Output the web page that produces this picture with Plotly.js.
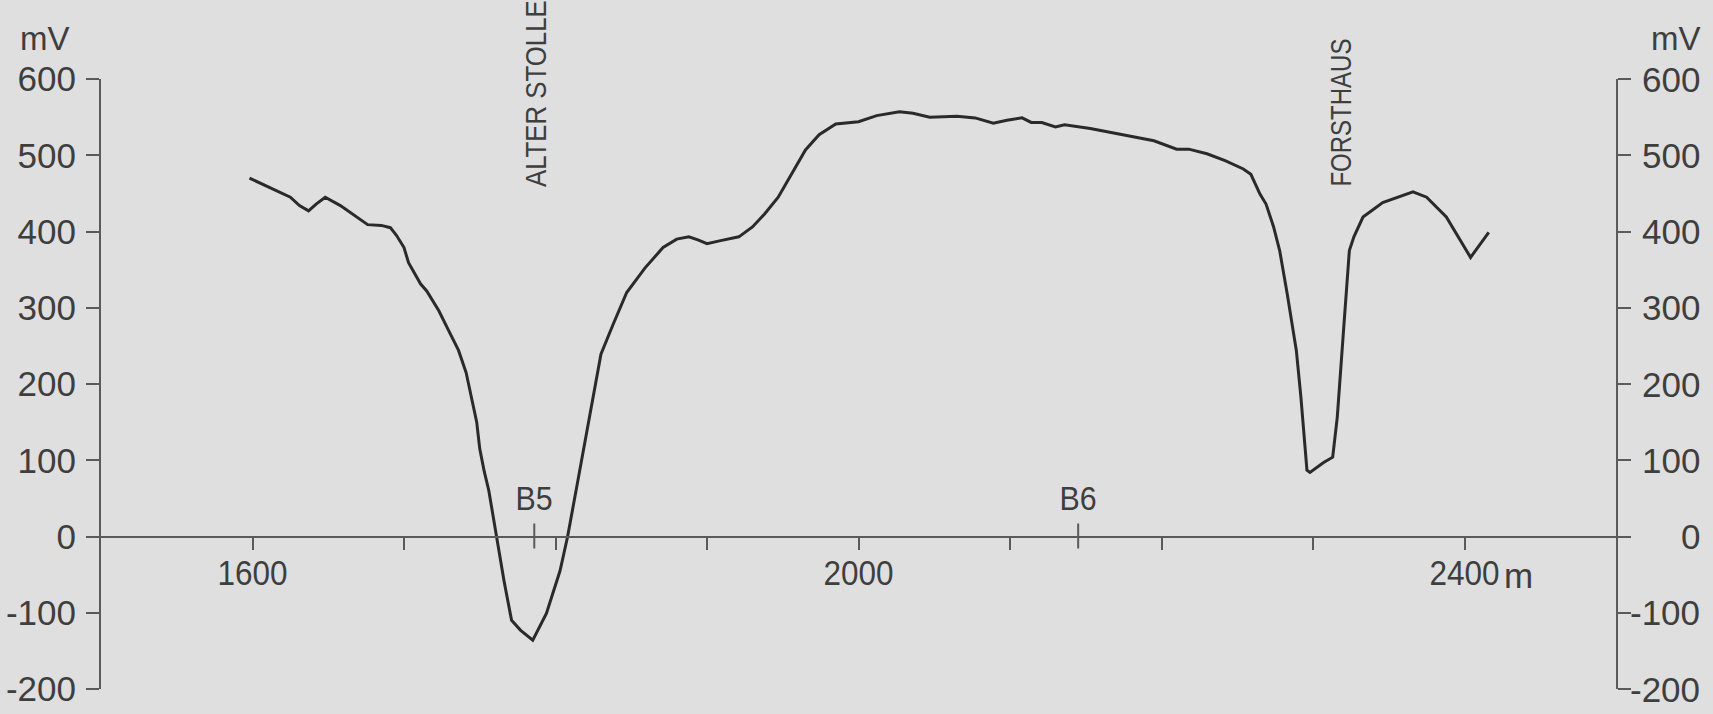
<!DOCTYPE html>
<html>
<head>
<meta charset="utf-8">
<script src="https://cdn.plot.ly/plotly-3.0.1.min.js"></script>
<style>
  html, body { margin: 0; padding: 0; background: #dfdfdf; }
  #chart { width: 1713px; height: 714px; }
</style>
</head>
<body>
<div id="chart"></div>
<script>
// ---- data (profile distance in m, self-potential in mV) ----
const distance = [1598,1625,1631,1637,1642,1648,1658,1669,1676,1685,1691,1695,1700,1703,1706,1711,1715,1723,1729,1736,1741,1745,1748,1750,1753,1756,1761,1766,1771,1777,1785,1794,1803,1808,1814,1819,1825,1830,1838,1847,1859,1871,1880,1888,1894,1900,1909,1921,1930,1938,1947,1956,1965,1974,1985,2000,2012,2027,2036,2047,2065,2077,2089,2098,2108,2114,2121,2130,2136,2153,2171,2183,2195,2210,2218,2230,2242,2254,2259,2265,2269,2274,2278,2283,2289,2292,2296,2298,2307,2313,2316,2320,2324,2327,2333,2346,2366,2375,2388,2404,2416];
const potential = [470,445,434,427,436,445,434,419,409,408,405,395,379,359,348,331,322,296,272,244,215,180,150,115,85,60,0,-58,-110,-123,-136,-101,-45,0,65,121,187,239,278,320,352,379,390,393,389,384,388,393,406,423,445,476,507,527,541,544,552,557,555,550,551,549,542,546,549,543,543,537,540,535,528,524,519,508,508,502,493,482,475,449,436,406,375,318,244,183,87,84,97,104,156,266,375,393,419,438,452,445,419,366,399];

const xTickVals = [1600,1700,1800,1900,2000,2100,2200,2300,2400];
const xTickText = ['1600','','','','2000','','','','2400'];
const xUnit = 'm';
const yTickVals = [600,500,400,300,200,100,0,-100,-200];
const yTickText = ['600','500','400','300','200','100','0','-100','-200'];
const yUnit = 'mV';

const boreholeNames = ['B5','B6'];
const boreholeX = [1786,2145];
const landmarkNames = ['ALTER STOLLE','FORSTHAUS'];
const landmarkX = [1787,2318];
const landmarkBase = 456;

// ---- styling ----
const FONT = "'Liberation Sans', Arial, sans-serif";
const TXT = '#3e3e3e';
const AX = '#5a5a5a';
const BG = '#dfdfdf';

const traces = [
  { x: distance, y: potential, type: 'scatter', mode: 'lines',
    line: { color: '#2a2a2a', width: 3 }, hoverinfo: 'skip', showlegend: false },
  { x: [null], y: [null], type: 'scatter', mode: 'lines', yaxis: 'y2', showlegend: false, hoverinfo: 'skip' }
];

const annotations = [];
const annSqueeze = [];   // [origin, factor] per annotation (imitates the condensed lettering)
boreholeNames.forEach((n, i) => { annotations.push({
  text: n, x: boreholeX[i], y: 0, xref: 'x', yref: 'y', xanchor: 'center', yanchor: 'bottom',
  yshift: 18, showarrow: false, font: { family: FONT, size: 33, color: TXT }
}); annSqueeze.push(['middle', 0.92]); });
const landmarkSq = [0.86, 0.8];
landmarkNames.forEach((n, i) => { annotations.push({
  text: n, x: landmarkX[i], y: landmarkBase, xref: 'x', yref: 'y', xanchor: 'center', yanchor: 'bottom',
  textangle: -90, showarrow: false, font: { family: FONT, size: 30, color: TXT }
}); annSqueeze.push(['start', landmarkSq[i]]); });
// right-axis labels (right-aligned like the original)
yTickVals.forEach((v, i) => { annotations.push({
  text: yTickText[i], x: 1.0568, y: v, xref: 'paper', yref: 'y', xanchor: 'right', yanchor: 'middle',
  showarrow: false, font: { family: FONT, size: 35, color: TXT }
}); annSqueeze.push(['end', 1]); });
// unit labels
annotations.push({ text: yUnit, x: -0.055, y: 1.067, xref: 'paper', yref: 'paper', xanchor: 'left', yanchor: 'middle',
  showarrow: false, font: { family: FONT, size: 33, color: TXT } }); annSqueeze.push(['start', 1]);
annotations.push({ text: yUnit, x: 1.0218, y: 1.067, xref: 'paper', yref: 'paper', xanchor: 'left', yanchor: 'middle',
  showarrow: false, font: { family: FONT, size: 33, color: TXT } }); annSqueeze.push(['start', 1]);
annotations.push({ text: xUnit, x: xTickVals[xTickVals.length - 1], y: 0, xref: 'x', yref: 'y', xanchor: 'left', yanchor: 'middle',
  xshift: 37, yshift: -39, showarrow: false, font: { family: FONT, size: 35, color: TXT } }); annSqueeze.push(['start', 1]);

const shapes = boreholeX.map(bx => ({
  type: 'line', xref: 'x', yref: 'y', ysizemode: 'pixel', yanchor: 0,
  x0: bx, x1: bx, y0: -12, y1: 13, line: { color: AX, width: 2 }
}));

const layout = {
  width: 1713, height: 714,
  margin: { l: 101, r: 97, t: 79, b: 25, pad: 0 },
  paper_bgcolor: BG, plot_bgcolor: BG,
  showlegend: false,
  font: { family: FONT, color: TXT },
  xaxis: {
    range: [1500, 2500], domain: [0, 1], anchor: 'free', position: 0.25,
    showline: true, linecolor: AX, linewidth: 2, zeroline: false, showgrid: false,
    ticks: 'outside', ticklen: 12, tickwidth: 2, tickcolor: AX,
    tickmode: 'array', tickvals: xTickVals, ticktext: xTickText,
    tickfont: { family: FONT, size: 35, color: TXT }, ticklabelstandoff: -6
  },
  yaxis: {
    range: [-200, 600], domain: [0, 1], anchor: 'x', side: 'left',
    showline: true, linecolor: AX, linewidth: 2, zeroline: false, showgrid: false,
    ticks: 'outside', ticklen: 13, tickwidth: 2, tickcolor: AX,
    tickmode: 'array', tickvals: yTickVals, ticktext: yTickText,
    tickfont: { family: FONT, size: 35, color: TXT }, ticklabelstandoff: 3
  },
  yaxis2: {
    range: [-200, 600], overlaying: 'y', anchor: 'x', side: 'right',
    showline: true, linecolor: AX, linewidth: 2, zeroline: false, showgrid: false,
    ticks: 'outside', ticklen: 13, tickwidth: 2, tickcolor: AX,
    tickmode: 'array', tickvals: yTickVals, showticklabels: false
  },
  annotations: annotations,
  shapes: shapes
};

function squeeze(el, mode, f) {
  if (!el || !el.textContent || f === 1) return;
  const bb = el.getBBox();
  const ox = mode === 'end' ? bb.x + bb.width : (mode === 'start' ? bb.x : bb.x + bb.width / 2);
  const oy = bb.y + bb.height / 2;
  const t = el.getAttribute('transform') || '';
  el.setAttribute('transform', t + ' translate(' + ox + ',' + oy + ') scale(' + f + ',1) translate(' + (-ox) + ',' + (-oy) + ')');
}

Plotly.newPlot('chart', traces, layout, { staticPlot: true, displayModeBar: false }).then(gd => {
  gd.querySelectorAll('.xtick text').forEach(el => squeeze(el, 'middle', 0.9));
  gd.querySelectorAll('g.annotation').forEach(g => {
    const idx = +g.getAttribute('data-index');
    const s = annSqueeze[idx] || ['middle', 1];
    squeeze(g.querySelector('text.annotation-text'), s[0], s[1]);
  });
});
</script>
</body>
</html>
